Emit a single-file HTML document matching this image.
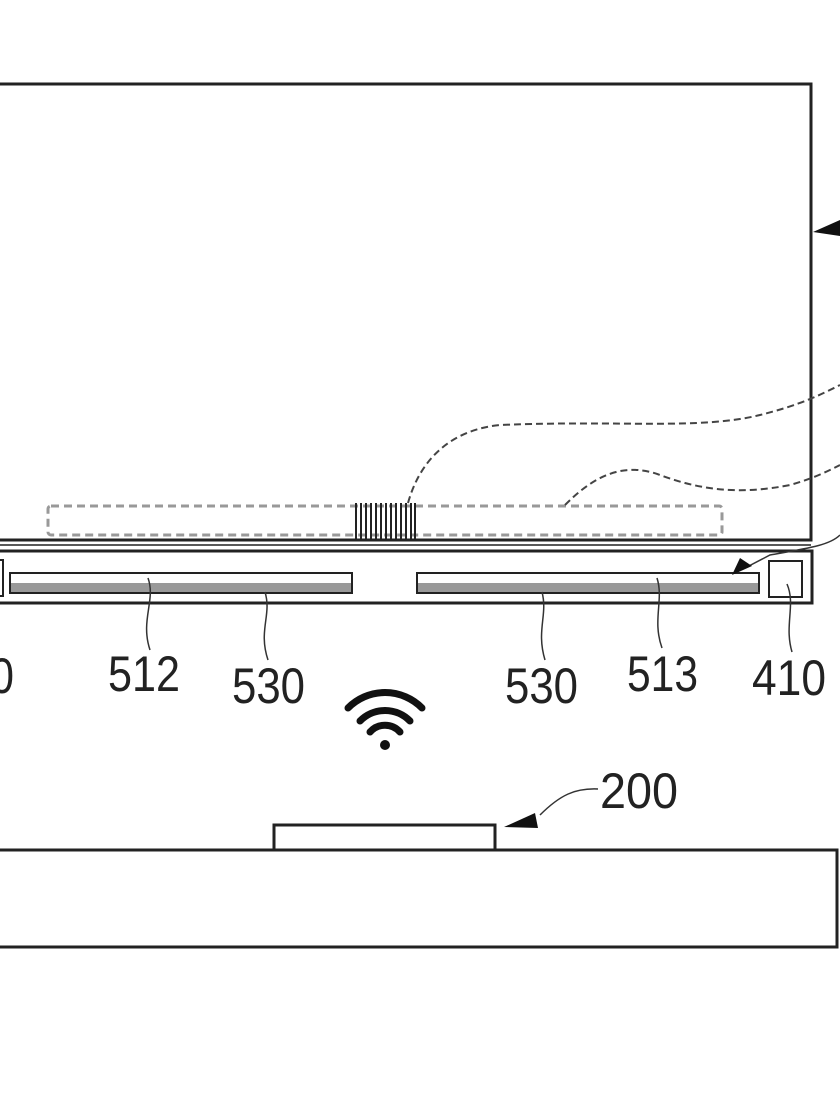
<!DOCTYPE html>
<html><head><style>
html,body{margin:0;padding:0;background:#fff;}
svg{display:block;}
text{font-family:"Liberation Sans",sans-serif;font-size:50px;fill:#222;}
</style></head><body>
<svg width="840" height="1120" viewBox="0 0 840 1120" xmlns="http://www.w3.org/2000/svg">
<rect width="840" height="1120" fill="#fff"/>
<g fill="none" stroke="#222" stroke-width="3">
<path d="M0 84 H811 V540 H0"/>
<path d="M0 551 H812 V603 H0"/>
<line x1="0" y1="545" x2="811" y2="545" stroke-width="1.5"/>
</g>
<rect x="-2" y="560" width="5" height="36" fill="none" stroke="#222" stroke-width="2"/>
<rect x="48" y="506" width="674" height="29" rx="3" fill="none" stroke="#999" stroke-width="3" stroke-dasharray="8 5"/>
<g stroke="#222" stroke-width="2">
<line x1="356" y1="503" x2="356" y2="540"/><line x1="361" y1="503" x2="361" y2="540"/>
<line x1="366" y1="503" x2="366" y2="540"/><line x1="371" y1="503" x2="371" y2="540"/>
<line x1="376" y1="503" x2="376" y2="540"/><line x1="381" y1="503" x2="381" y2="540"/>
<line x1="386" y1="503" x2="386" y2="540"/><line x1="391" y1="503" x2="391" y2="540"/>
<line x1="396" y1="503" x2="396" y2="540"/><line x1="401" y1="503" x2="401" y2="540"/>
<line x1="406" y1="503" x2="406" y2="540"/><line x1="411" y1="503" x2="411" y2="540"/>
<line x1="415" y1="503" x2="415" y2="540"/>
</g>
<rect x="10" y="573" width="342" height="20" fill="#fff" stroke="#222" stroke-width="2"/>
<rect x="11" y="583" width="340" height="9" fill="#999"/>
<rect x="417" y="573" width="342" height="20" fill="#fff" stroke="#222" stroke-width="2"/>
<rect x="418" y="583" width="340" height="9" fill="#999"/>
<rect x="769" y="561" width="33" height="36" fill="#fff" stroke="#222" stroke-width="2"/>
<g fill="none" stroke="#444" stroke-width="2" stroke-dasharray="7 4">
<path d="M408 503 C420 460 450 430 500 425 C620 420 700 430 760 415 C800 405 820 395 840 385"/>
<path d="M565 505 C590 480 620 460 660 475 C700 490 740 495 790 485 C815 478 830 470 840 465"/>
</g>
<path d="M840 535 C830 545 810 548 770 555 L745 568" fill="none" stroke="#333" stroke-width="1.5"/>
<polygon points="732,575 740,558 752,566" fill="#111"/>
<polygon points="813,232 840,220 840,236" fill="#111"/>
<g fill="none" stroke="#333" stroke-width="1.5">
<path d="M148 578 C156 600 140 620 150 650"/>
<path d="M265 592 C272 615 258 630 268 660"/>
<path d="M542 592 C548 615 536 630 545 660"/>
<path d="M657 578 C664 600 652 620 662 648"/>
<path d="M787 584 C796 605 784 625 792 652"/>
</g>
<text x="-10" y="693" textLength="24" lengthAdjust="spacingAndGlyphs">0</text>
<text x="108" y="691" textLength="72" lengthAdjust="spacingAndGlyphs">512</text>
<text x="232" y="703" textLength="73" lengthAdjust="spacingAndGlyphs">530</text>
<text x="505" y="703" textLength="73" lengthAdjust="spacingAndGlyphs">530</text>
<text x="627" y="691" textLength="71" lengthAdjust="spacingAndGlyphs">513</text>
<text x="752" y="695" textLength="74" lengthAdjust="spacingAndGlyphs">410</text>
<g fill="none" stroke="#111" stroke-width="7" stroke-linecap="round">
<path d="M348 708 A52 52 0 0 1 422 708"/>
<path d="M360 721 A35 35 0 0 1 410 721"/>
<path d="M370 732 A20 20 0 0 1 400 732"/>
</g>
<circle cx="385" cy="745" r="5" fill="#111"/>
<text x="600" y="808" textLength="78" lengthAdjust="spacingAndGlyphs">200</text>
<path d="M598 789 C575 788 560 795 540 815" fill="none" stroke="#333" stroke-width="1.5"/>
<polygon points="504,827 535,813 538,828" fill="#111"/>
<rect x="274" y="825" width="221" height="25" fill="#fff" stroke="#222" stroke-width="3"/>
<path d="M0 850 H837 V947 H0" fill="none" stroke="#222" stroke-width="3"/>
</svg>
</body></html>
